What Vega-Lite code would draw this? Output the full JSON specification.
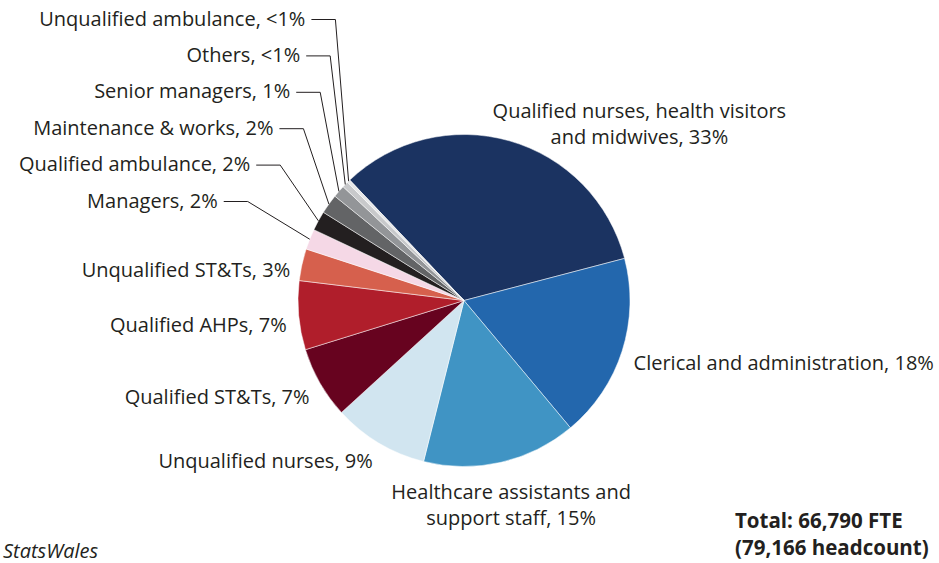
{
  "$schema": "https://vega.github.io/schema/vega-lite/v6.json",
  "width": 928,
  "height": 525,
  "autosize": {"type": "none"},
  "padding": {"left": 0, "top": 38, "right": 11, "bottom": 0},
  "background": "white",
  "config": {"view": {"stroke": null}, "font": "Open Sans"},
  "data": {
    "values": [
      {"group": "Qualified nurses, health visitors\nand midwives", "pct": 33.0, "order": 1},
      {"group": "Clerical and administration", "pct": 18.0, "order": 2},
      {"group": "Healthcare assistants and\nsupport staff", "pct": 15.0, "order": 3},
      {"group": "Unqualified nurses", "pct": 9.3, "order": 4},
      {"group": "Qualified ST&Ts", "pct": 7.0, "order": 5},
      {"group": "Qualified AHPs", "pct": 6.7, "order": 6},
      {"group": "Unqualified ST&Ts", "pct": 3.1, "order": 7},
      {"group": "Managers", "pct": 2.0, "order": 8},
      {"group": "Qualified ambulance", "pct": 1.9, "order": 9},
      {"group": "Maintenance & works", "pct": 1.9, "order": 10},
      {"group": "Senior managers", "pct": 1.2, "order": 11},
      {"group": "Others", "pct": 0.6, "order": 12},
      {"group": "Unqualified ambulance", "pct": 0.3, "order": 13}
    ]
  },
  "transform": [
    {"joinaggregate": [{"op": "sum", "field": "pct", "as": "total"}]},
    {"window": [{"op": "sum", "field": "pct", "as": "cum"}], "sort": [{"field": "order"}], "frame": [null, 0]},
    {"calculate": "datum.pct <= 2", "as": "small"},
    {"window": [{"op": "row_number", "as": "rn"}], "groupby": ["small"], "sort": [{"field": "order"}]},
    {"calculate": "-0.75922 + 2*PI*(datum.cum - datum.pct/2)/datum.total", "as": "m"},
    {"calculate": "166*sin(datum.m)", "as": "ex"},
    {"calculate": "-166*cos(datum.m)", "as": "ey"},
    {"calculate": "datum.rn - 1", "as": "j"},
    {"calculate": "-99 - 36.4*datum.j", "as": "ly"},
    {"calculate": "datum.ex - (11 + 51*exp(-0.63*datum.j))", "as": "elbow"},
    {"calculate": "datum.elbow - 24", "as": "lsx"},
    {"calculate": "(sin(datum.m) > 0 && cos(datum.m) > 0.7071) ? PI/4 : datum.m", "as": "la"},
    {"calculate": "datum.small ? 'right' : (sin(datum.la) > 0.8 ? 'left' : (sin(datum.la) < -0.4 ? 'right' : 'center'))", "as": "side"},
    {"calculate": "datum.side == 'center' ? 207 + 82*pow(sin(datum.la), 2) : 178", "as": "R"},
    {"calculate": "datum.small ? datum.lsx - 6 : datum.R*sin(datum.la)", "as": "tx"},
    {"calculate": "datum.small ? datum.ly : -datum.R*cos(datum.la) + (datum.side == 'center' ? -13 : 9)", "as": "ty"},
    {"calculate": "datum.group + ', ' + (datum.pct < 1 ? '<1' : format(datum.pct, '.0f')) + '%'", "as": "lbl"}
  ],
  "layer": [
    {
      "mark": {"type": "arc", "outerRadius": 166, "stroke": "#ffffff", "strokeWidth": 0.5},
      "encoding": {
        "theta": {"field": "pct", "type": "quantitative", "stack": true, "scale": {"range": [-0.75922, 5.52397]}},
        "order": {"field": "order", "type": "quantitative"},
        "color": {
          "field": "group",
          "type": "nominal",
          "legend": null,
          "scale": {
            "domain": [
              "Qualified nurses, health visitors\nand midwives",
              "Clerical and administration",
              "Healthcare assistants and\nsupport staff",
              "Unqualified nurses",
              "Qualified ST&Ts",
              "Qualified AHPs",
              "Unqualified ST&Ts",
              "Managers",
              "Qualified ambulance",
              "Maintenance & works",
              "Senior managers",
              "Others",
              "Unqualified ambulance"
            ],
            "range": ["#1b3361", "#2367ad", "#4094c4", "#d1e5f0", "#67031f", "#b01e2b", "#d6604d", "#f5d8e6", "#231f20", "#636466", "#939598", "#c8c9cb", "#e6e7e8"]
          }
        }
      }
    },
    {
      "transform": [{"filter": "datum.small"}],
      "mark": {"type": "rule", "color": "#231f20", "strokeWidth": 1},
      "encoding": {
        "x": {"field": "ex", "type": "quantitative", "axis": null, "scale": {"domain": [-464, 464], "nice": false, "zero": false}},
        "y": {"field": "ey", "type": "quantitative", "axis": null, "scale": {"domain": [-262.5, 262.5], "reverse": true, "nice": false, "zero": false}},
        "x2": {"field": "elbow"},
        "y2": {"field": "ly"}
      }
    },
    {
      "transform": [{"filter": "datum.small"}],
      "mark": {"type": "rule", "color": "#231f20", "strokeWidth": 1},
      "encoding": {
        "x": {"field": "elbow", "type": "quantitative", "axis": null, "scale": {"domain": [-464, 464], "nice": false, "zero": false}},
        "y": {"field": "ly", "type": "quantitative", "axis": null, "scale": {"domain": [-262.5, 262.5], "reverse": true, "nice": false, "zero": false}},
        "x2": {"field": "lsx"},
        "y2": {"field": "ly"}
      }
    },
    {
      "transform": [{"filter": "datum.side == 'right'"}],
      "mark": {"type": "text", "align": "right", "baseline": "middle", "fontSize": 20, "color": "#231f20", "lineBreak": "\n"},
      "encoding": {
        "x": {"field": "tx", "type": "quantitative", "axis": null, "scale": {"domain": [-464, 464], "nice": false, "zero": false}},
        "y": {"field": "ty", "type": "quantitative", "axis": null, "scale": {"domain": [-262.5, 262.5], "reverse": true, "nice": false, "zero": false}},
        "text": {"field": "lbl", "type": "nominal"}
      }
    },
    {
      "transform": [{"filter": "datum.side == 'left'"}],
      "mark": {"type": "text", "align": "left", "baseline": "middle", "fontSize": 20, "color": "#231f20", "lineBreak": "\n"},
      "encoding": {
        "x": {"field": "tx", "type": "quantitative", "axis": null, "scale": {"domain": [-464, 464], "nice": false, "zero": false}},
        "y": {"field": "ty", "type": "quantitative", "axis": null, "scale": {"domain": [-262.5, 262.5], "reverse": true, "nice": false, "zero": false}},
        "text": {"field": "lbl", "type": "nominal"}
      }
    },
    {
      "transform": [{"filter": "datum.side == 'center'"}],
      "mark": {"type": "text", "align": "center", "baseline": "middle", "fontSize": 20, "color": "#231f20", "lineBreak": "\n", "lineHeight": 26},
      "encoding": {
        "x": {"field": "tx", "type": "quantitative", "axis": null, "scale": {"domain": [-464, 464], "nice": false, "zero": false}},
        "y": {"field": "ty", "type": "quantitative", "axis": null, "scale": {"domain": [-262.5, 262.5], "reverse": true, "nice": false, "zero": false}},
        "text": {"field": "lbl", "type": "nominal"}
      }
    },
    {
      "data": {"values": [{"fte": 66790, "headcount": 79166}]},
      "transform": [{"calculate": "'Total: ' + format(datum.fte, ',') + ' FTE\\n(' + format(datum.headcount, ',') + ' headcount)'", "as": "note"}],
      "mark": {"type": "text", "align": "left", "baseline": "middle", "fontSize": 20.5, "fontWeight": "bold", "color": "#231f20", "lineBreak": "\n", "lineHeight": 27},
      "encoding": {
        "x": {"datum": 271, "type": "quantitative", "axis": null, "scale": {"domain": [-464, 464], "nice": false, "zero": false}},
        "y": {"datum": 221, "type": "quantitative", "axis": null, "scale": {"domain": [-262.5, 262.5], "reverse": true, "nice": false, "zero": false}},
        "text": {"field": "note", "type": "nominal"}
      }
    },
    {
      "data": {"values": [{"source": "StatsWales"}]},
      "mark": {"type": "text", "align": "left", "baseline": "alphabetic", "fontSize": 20, "fontStyle": "italic", "color": "#231f20"},
      "encoding": {
        "x": {"datum": -461, "type": "quantitative", "axis": null, "scale": {"domain": [-464, 464], "nice": false, "zero": false}},
        "y": {"datum": 257.5, "type": "quantitative", "axis": null, "scale": {"domain": [-262.5, 262.5], "reverse": true, "nice": false, "zero": false}},
        "text": {"field": "source", "type": "nominal"}
      }
    }
  ]
}
